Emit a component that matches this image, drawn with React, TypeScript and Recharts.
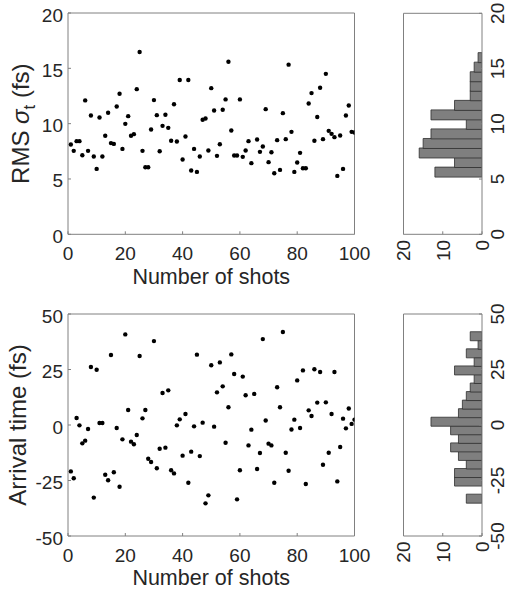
import React from 'react';
import { ScatterChart, Scatter, XAxis, YAxis, BarChart, Bar } from 'recharts';

const FONT = '"Liberation Sans", Arial, Helvetica, sans-serif';
const TEXT = '#262626';
const AXIS = '#808080';

const shotTicks = [0, 20, 40, 60, 80, 100];
const rmsTicks = [0, 5, 10, 15, 20];
const arrivalTicks = [-50, -25, 0, 25, 50];
const countTicks = [0, 10, 20];

// RMS sigma_t (fs) per shot 1..100 (shot 65 missing)
const rmsValues: (number | null)[] = [
  8.11, 7.54, 8.42, 8.42, 7.15, 12.1, 7.54, 10.74, 7.03, 5.91,
  10.56, 7.03, 8.9, 10.98, 8.24, 8.17, 11.55, 12.7, 7.72, 9.98,
  10.68, 8.9, 9.05, 13.12, 16.47, 7.54, 6.06, 6.06, 9.47, 12.13,
  10.77, 7.51, 9.8, 10.8, 9.62, 8.45, 11.76, 8.39, 13.94, 6.76,
  8.84, 13.94, 5.76, 7.72, 5.64, 7.03, 10.35, 10.47, 7.57, 13.21,
  11.19, 7.09, 8.14, 11.25, 12.19, 15.6, 9.38, 7.12, 7.12, 12.19,
  7.0, 7.57, 8.42, 6.43, null, 8.57, 7.45, 7.93, 11.31, 6.52,
  7.42, 5.52, 8.51, 5.82, 10.95, 8.6, 15.33, 9.26, 5.64, 6.49,
  7.36, 5.97, 5.97, 11.82, 12.76, 8.45, 10.6, 13.24, 8.6, 14.5,
  9.35, 9.08, 8.78, 5.28, 8.93, 5.91, 10.74, 11.64, 9.26, 9.2,
];

// Arrival time (fs) per shot 1..100
const arrivalValues: number[] = [
  -20.9, -24.0, 3.15, -0.15, -8.26, -7.06, -1.8, 26.1, -32.7, 24.9,
  0.9, 0.9, -22.4, -24.9, 31.5, -21.3, -1.35, -27.8, -6.46, 40.8,
  6.76, -7.5, -8.7, -4.5, 31.1, 3.0, 6.76, -15.2, -16.7, 37.8,
  -19.5, -10.7, 14.4, -10.2, 15.6, -20.4, -21.8, -0.15, 2.55, -13.8,
  4.95, -26.0, -12.0, -0.6, 31.7, -14.0, 1.05, -35.3, -31.7, 26.9,
  -0.75, 14.7, 28.2, 17.4, -8.0, 8.0, 31.8, 23.0, -33.5, -20.4,
  21.8, 13.4, -9.2, -2.1, 14.0, -19.8, -12.6, 38.7, 2.0, -8.4,
  -9.2, -26.0, 17.0, 8.0, 41.9, -12.5, -20.6, -2.0, 2.4, 20.1,
  -1.35, 24.6, -26.6, 6.6, 4.05, 25.1, 10.1, 23.9, -17.9, 10.2,
  -12.5, 4.95, 23.9, -25.4, -9.9, 2.85, -1.5, 7.4, 0.5, 2.4,
];

const rmsBinCenters = [5.65, 6.52, 7.38, 8.24, 9.11, 9.97, 10.83, 11.69, 12.56, 13.42, 14.28, 15.15, 16.01];
const rmsBinCounts = [12, 7, 16, 15, 13, 4, 13, 7, 3, 3, 3, 2, 1];

const arrivalBinCenters = [
  -33.08, -29.23, -25.38, -21.53, -17.68, -13.83, -9.98, -6.13, -2.28, 1.58,
  5.43, 9.28, 13.13, 16.98, 20.83, 24.68, 28.53, 32.38, 36.23, 40.08,
];
const arrivalBinCounts = [4, 0, 7, 7, 4, 6, 8, 6, 8, 13, 6, 5, 4, 3, 2, 7, 2, 4, 1, 3];

const rmsRows = rmsValues
  .map((v, i) => ({ shot: i + 1, value: v }))
  .filter((r) => r.value !== null);
const arrivalRows = arrivalValues.map((v, i) => ({ shot: i + 1, value: v }));
const rmsHistRows = rmsBinCenters.map((c, i) => ({ center: c, count: rmsBinCounts[i] }));
const arrivalHistRows = arrivalBinCenters.map((c, i) => ({ center: c, count: arrivalBinCounts[i] }));

const TICK_FS = 19;
const XLABEL_FS = 21.5;
const YLABEL_FS = 24;

const XTickLabel = (props: any) => {
  const { x, y, payload } = props;
  return (
    <text x={x} y={y + 28.5} textAnchor="middle" fill={TEXT} fontSize={TICK_FS} fontFamily={FONT}>
      {payload.value}
    </text>
  );
};

const YTickLabel = (props: any) => {
  const { x, y, payload } = props;
  return (
    <text x={x - 8} y={y + 8.5} textAnchor="end" fill={TEXT} fontSize={TICK_FS} fontFamily={FONT}>
      {payload.value}
    </text>
  );
};

const CountTickLabel = (props: any) => {
  const { x, y, payload } = props;
  const ax = x + 6.8;
  const ay = y + 3 + 5.5;
  return (
    <text
      x={ax}
      y={ay}
      transform={`rotate(-90 ${ax} ${ay})`}
      textAnchor="end"
      fill={TEXT}
      fontSize={TICK_FS}
      fontFamily={FONT}
    >
      {payload.value}
    </text>
  );
};

const ValueTickLabel = (props: any) => {
  const { x, y, payload } = props;
  const ax = x + 25;
  const ay = y;
  return (
    <text
      x={ax}
      y={ay}
      transform={`rotate(-90 ${ax} ${ay})`}
      textAnchor="middle"
      fill={TEXT}
      fontSize={TICK_FS}
      fontFamily={FONT}
    >
      {payload.value}
    </text>
  );
};

const makeYLabel = (bx: number, kind: 'rms' | 'arrival') => (props: any) => {
  const vb = props.viewBox || {};
  const cy = (vb.y || 0) + (vb.height || 0) / 2;
  return (
    <text
      x={bx}
      y={cy}
      transform={`rotate(-90 ${bx} ${cy})`}
      textAnchor="middle"
      fill={TEXT}
      fontSize={YLABEL_FS}
      fontFamily={FONT}
    >
      {kind === 'rms' ? (
        <>
          <tspan>RMS </tspan>
          <tspan fontStyle="italic">σ</tspan>
          <tspan fontSize={17} dy={6}>t</tspan>
          <tspan dy={-6}> (fs)</tspan>
        </>
      ) : (
        'Arrival time (fs)'
      )}
    </text>
  );
};

const Dot = (props: any) => <circle cx={props.cx} cy={props.cy} r={2.2} fill="#000" />;

const axisCommon = {
  stroke: AXIS,
  tickSize: -3,
  tickMargin: 0,
  allowDataOverflow: true,
  type: 'number' as const,
};

function ScatterPanel(props: {
  rows: any[];
  yTicks: number[];
  yDomain: [number, number];
  height: number;
  top: number;
  bottomAxis: number;
  labelOffset: number;
  yLabel: any;
}) {
  const { rows, yTicks, yDomain, height, top, bottomAxis, labelOffset, yLabel } = props;
  return (
    <ScatterChart width={372} height={height} margin={{ top: top - 1, right: 16.5, bottom: 0, left: 0 }}>
      <XAxis
        {...axisCommon}
        xAxisId="b"
        dataKey="shot"
        orientation="bottom"
        height={bottomAxis}
        domain={[0, 100]}
        ticks={shotTicks}
        tick={<XTickLabel />}
        label={{
          value: 'Number of shots',
          position: 'insideBottom',
          offset: labelOffset,
          fill: TEXT,
          fontSize: XLABEL_FS,
          fontFamily: FONT,
        }}
      />
      <XAxis
        {...axisCommon}
        xAxisId="t"
        dataKey="shot"
        orientation="top"
        height={1}
        domain={[0, 100]}
        ticks={shotTicks}
        tick={false}
      />
      <YAxis
        {...axisCommon}
        yAxisId="l"
        dataKey="value"
        orientation="left"
        width={68}
        domain={yDomain}
        ticks={yTicks}
        tick={<YTickLabel />}
        label={{ content: yLabel }}
      />
      <YAxis
        {...axisCommon}
        yAxisId="r"
        dataKey="value"
        orientation="right"
        width={1}
        domain={yDomain}
        ticks={yTicks}
        tick={false}
      />
      <Scatter
        data={rows}
        xAxisId="b"
        yAxisId="l"
        dataKey="value"
        shape={<Dot />}
        isAnimationActive={false}
      />
    </ScatterChart>
  );
}

function HistPanel(props: {
  rows: any[];
  vTicks: number[];
  vDomain: [number, number];
  height: number;
  top: number;
  bottomAxis: number;
}) {
  const { rows, vTicks, vDomain, height, top, bottomAxis } = props;
  return (
    <BarChart
      layout="vertical"
      width={130}
      height={height}
      data={rows}
      barCategoryGap={0}
      barGap={0}
      margin={{ top: top - 1, right: 0, bottom: 0, left: 22.5 }}
    >
      <XAxis
        {...axisCommon}
        xAxisId="b"
        dataKey="count"
        orientation="bottom"
        height={bottomAxis}
        domain={[0, 20]}
        ticks={countTicks}
        reversed
        tick={<CountTickLabel />}
      />
      <XAxis
        {...axisCommon}
        xAxisId="t"
        dataKey="count"
        orientation="top"
        height={1}
        domain={[0, 20]}
        ticks={countTicks}
        reversed
        tick={false}
      />
      <YAxis
        {...axisCommon}
        yAxisId="r"
        dataKey="center"
        orientation="right"
        width={28}
        domain={vDomain}
        ticks={vTicks}
        reversed
        tick={<ValueTickLabel />}
      />
      <YAxis
        {...axisCommon}
        yAxisId="l"
        dataKey="center"
        orientation="left"
        width={1}
        domain={vDomain}
        ticks={vTicks}
        reversed
        tick={false}
      />
      <Bar
        dataKey="count"
        xAxisId="b"
        yAxisId="r"
        fill="#7f7f7f"
        stroke="#2e2e2e"
        strokeWidth={0.8}
        isAnimationActive={false}
      />
    </BarChart>
  );
}

export default function App() {
  return (
    <div
      style={{
        position: 'fixed',
        left: 0,
        top: 0,
        width: 510,
        height: 591,
        background: '#fff',
        overflow: 'hidden',
        fontFamily: FONT,
      }}
    >
      <div style={{ position: 'absolute', left: 0, top: 0 }}>
        <ScatterPanel
          rows={rmsRows}
          yTicks={rmsTicks}
          yDomain={[0, 20]}
          height={300}
          top={13}
          bottomAxis={65.7}
          labelOffset={16}
          yLabel={makeYLabel(29, 'rms')}
        />
      </div>
      <div style={{ position: 'absolute', left: 0, top: 300 }}>
        <ScatterPanel
          rows={arrivalRows}
          yTicks={arrivalTicks}
          yDomain={[-50, 50]}
          height={291}
          top={14}
          bottomAxis={55}
          labelOffset={6}
          yLabel={makeYLabel(26, 'arrival')}
        />
      </div>
      <div style={{ position: 'absolute', left: 380, top: 0 }}>
        <HistPanel
          rows={rmsHistRows}
          vTicks={rmsTicks}
          vDomain={[0, 20]}
          height={300}
          top={13.3}
          bottomAxis={65.7}
        />
      </div>
      <div style={{ position: 'absolute', left: 380, top: 300 }}>
        <HistPanel
          rows={arrivalHistRows}
          vTicks={arrivalTicks}
          vDomain={[-50, 50]}
          height={291}
          top={14}
          bottomAxis={55}
        />
      </div>
    </div>
  );
}
